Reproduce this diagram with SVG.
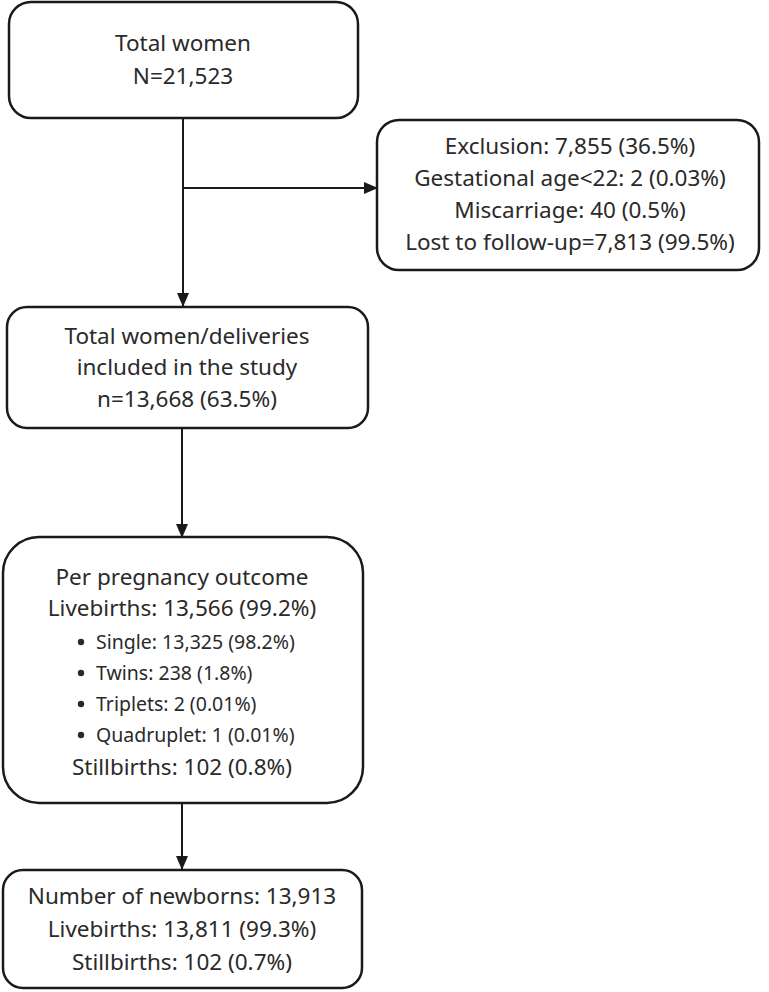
<svg xmlns="http://www.w3.org/2000/svg" width="769" height="992" viewBox="0 0 769 992">
<defs>
<marker id="ah" markerWidth="14" markerHeight="12" refX="13" refY="6" orient="auto" markerUnits="userSpaceOnUse"><path d="M0,0 L14,6 L0,12 z" fill="#1a1a1a"/></marker>
<style>
.box{fill:#fff;stroke:#1a1a1a;stroke-width:2.5}
.t{font-family:"Noto Sans","Liberation Sans",sans-serif;font-size:22.5px;fill:#2a2a2a;text-anchor:middle}
.s{font-family:"Noto Sans","Liberation Sans",sans-serif;font-size:19.5px;fill:#2a2a2a}
.ln{stroke:#1a1a1a;stroke-width:2;fill:none}
</style>
</defs>
<rect width="769" height="992" fill="#fff"/>
<g id="connectors">
<line class="ln" x1="183" y1="118" x2="183" y2="306" marker-end="url(#ah)"/>
<line class="ln" x1="183" y1="188" x2="377" y2="188" marker-end="url(#ah)"/>
<line class="ln" x1="182" y1="428" x2="182" y2="537" marker-end="url(#ah)"/>
<line class="ln" x1="182" y1="803" x2="182" y2="869" marker-end="url(#ah)"/>
</g>
<g id="total">
<rect class="box" x="9" y="2" width="349" height="116" rx="22"/>
<text class="t" x="183" y="51">Total women</text>
<text class="t" x="183" y="84">N=21,523</text>
</g>
<g id="exclusion">
<rect class="box" x="377" y="120" width="382" height="150" rx="22"/>
<text class="t" x="570" y="154">Exclusion: 7,855 (36.5%)</text>
<text class="t" x="570" y="186">Gestational age&lt;22: 2 (0.03%)</text>
<text class="t" x="570" y="218">Miscarriage: 40 (0.5%)</text>
<text class="t" x="570" y="250">Lost to follow-up=7,813 (99.5%)</text>
</g>
<g id="included">
<rect class="box" x="7" y="307" width="361" height="121" rx="20"/>
<text class="t" x="187" y="344">Total women/deliveries</text>
<text class="t" x="187" y="375">included in the study</text>
<text class="t" x="187" y="407">n=13,668 (63.5%)</text>
</g>
<g id="outcome">
<rect class="box" x="3" y="537" width="360" height="266" rx="36"/>
<text class="t" x="182" y="585">Per pregnancy outcome</text>
<text class="t" x="182" y="616">Livebirths: 13,566 (99.2%)</text>
<circle cx="81" cy="642" r="3.2" fill="#2a2a2a"/>
<text class="s" x="96" y="649">Single: 13,325 (98.2%)</text>
<circle cx="81" cy="673" r="3.2" fill="#2a2a2a"/>
<text class="s" x="96" y="680">Twins: 238 (1.8%)</text>
<circle cx="81" cy="704" r="3.2" fill="#2a2a2a"/>
<text class="s" x="96" y="711">Triplets: 2 (0.01%)</text>
<circle cx="81" cy="735" r="3.2" fill="#2a2a2a"/>
<text class="s" x="96" y="742">Quadruplet: 1 (0.01%)</text>
<text class="t" x="182" y="775">Stillbirths: 102 (0.8%)</text>
</g>
<g id="newborns">
<rect class="box" x="3" y="870" width="359" height="118" rx="20"/>
<text class="t" x="182" y="904">Number of newborns: 13,913</text>
<text class="t" x="182" y="937">Livebirths: 13,811 (99.3%)</text>
<text class="t" x="182" y="970">Stillbirths: 102 (0.7%)</text>
</g>
</svg>
